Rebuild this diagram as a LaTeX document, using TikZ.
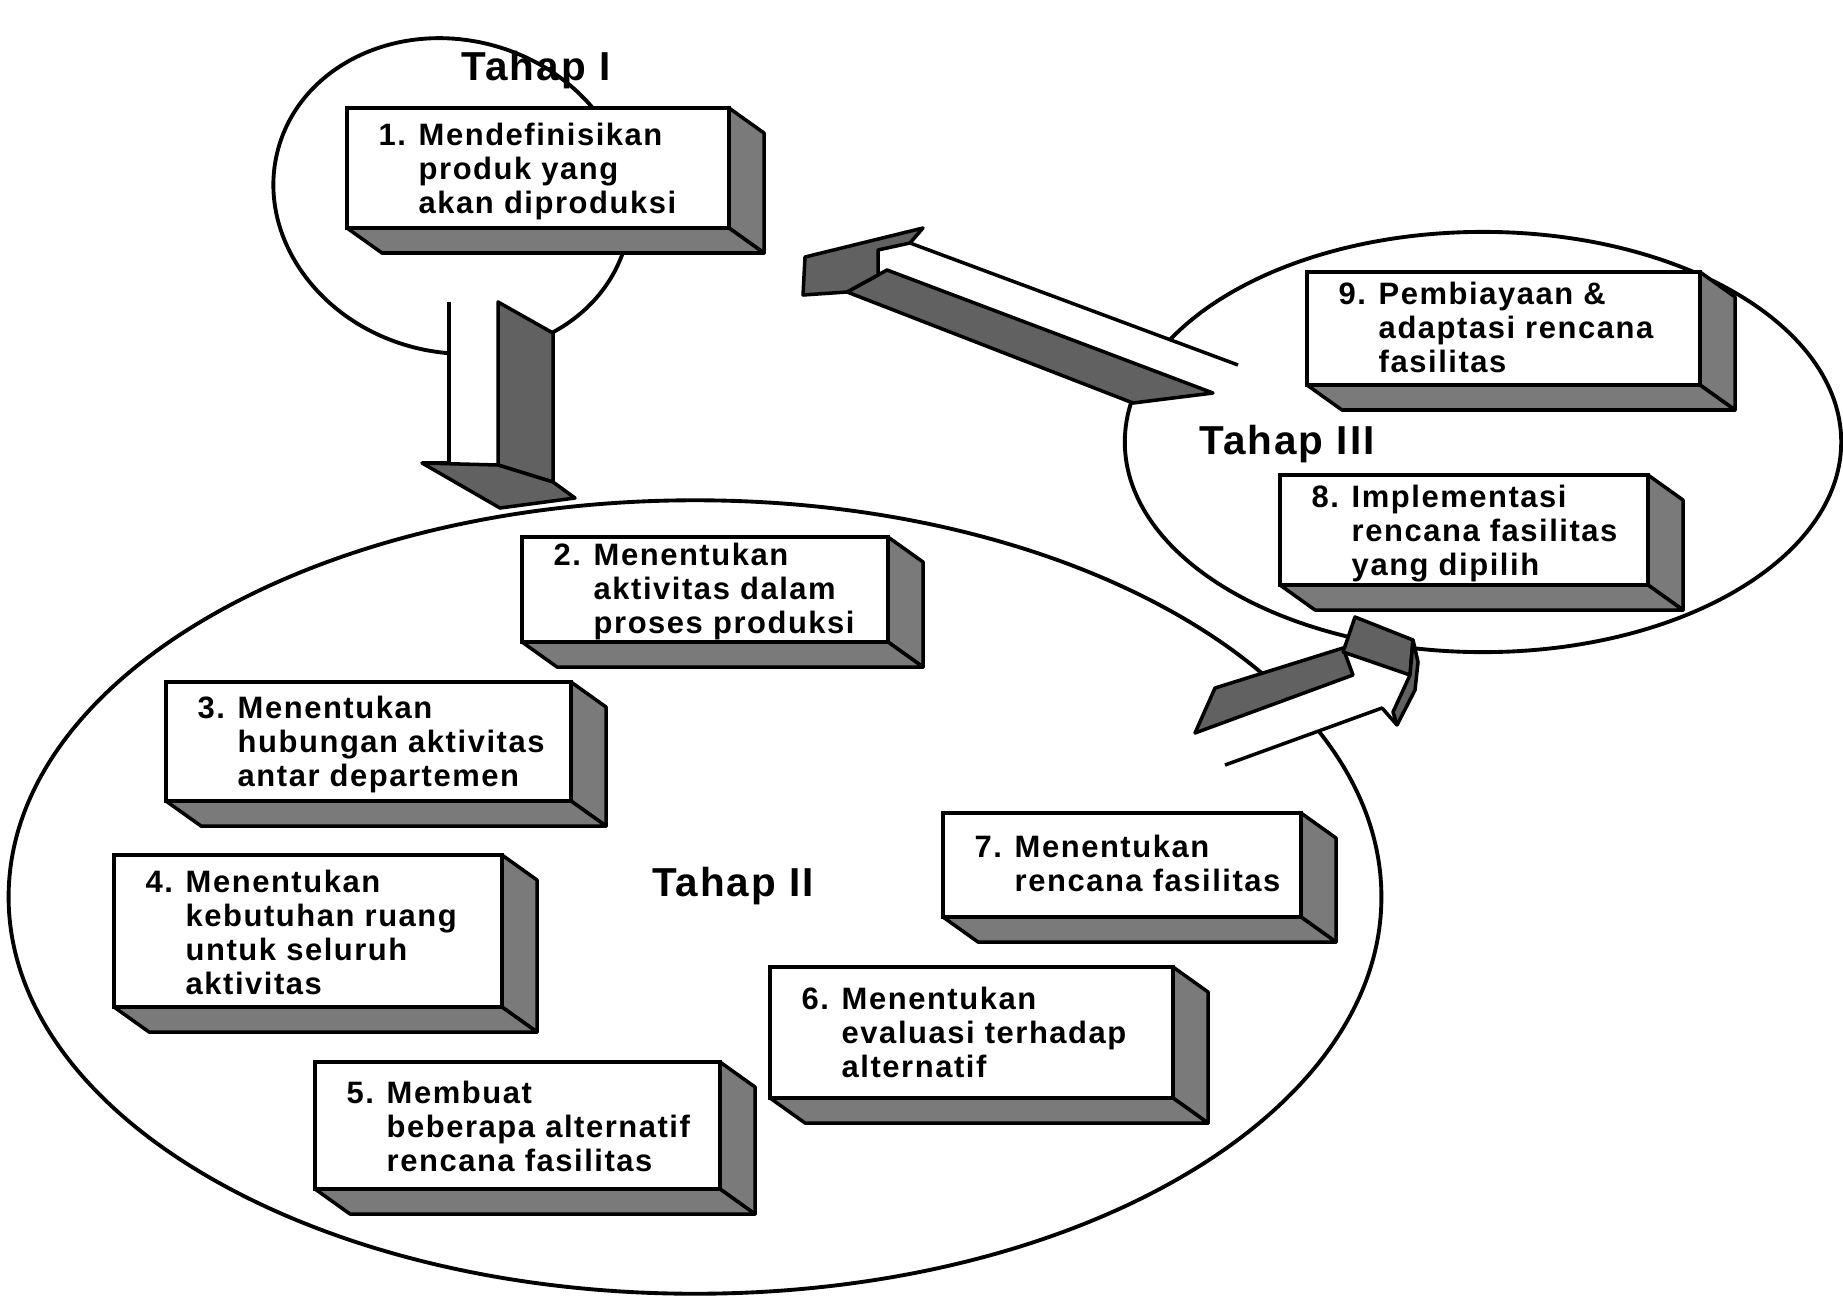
\documentclass[tikz,border=0pt]{standalone}
\usepackage{fontspec}
\newfontfamily\stepfont[LetterSpace=5]{Liberation Sans}
\usetikzlibrary{shapes.geometric,fit}

% number + indented lines
\newcommand\langkah[2]{\makebox[0.4cm][l]{#1}\begin{tabular}[t]{@{}l@{}}#2\end{tabular}}

% 3D block: name, left, top, right, bottom
\newcommand\balok[5]{%
  \draw[sideface] (#4,#3) -- (#4+35,#3+25) -- (#4+35,#5+25) -- (#4,#5) -- cycle;
  \draw[sideface] (#2,#5) -- (#2+35,#5+25) -- (#4+35,#5+25) -- (#4,#5) -- cycle;
  \node[frontbox, fit={(#2,#3) (#4,#5)}] (#1) {};
}

\begin{document}
\begin{tikzpicture}[
        x=0.01cm, y=-0.01cm,
        ring/.style={draw, ellipse, line width=1.1pt, inner sep=0pt},
        frontbox/.style={draw, line width=1pt, fill=white, inner sep=0pt},
        sideface/.style={draw, line width=1pt, fill=black!52, line join=round},
        darkface/.style={draw, line width=1pt, fill=black!62, line join=round},
        edge/.style={draw, line width=1pt, line join=round},
        stage/.style={font=\stepfont\bfseries\fontsize{11.5}{13}\selectfont, inner sep=0pt, anchor=base},
        steptext/.style={font=\stepfont\bfseries\fontsize{8.8}{9.7}\selectfont, inner sep=0pt, anchor=base west}
    ]
    \fill[white] (0,0) rectangle (1843,1306);
    \useasboundingbox (0,0) rectangle (1843,1306);

    % Stages
    \node[ring, minimum width=3.6cm, minimum height=3.12cm, rotate=-15] (tahap1) at (452,196) {};
    \node[ring, minimum width=13.72cm, minimum height=7.93cm] (tahap2) at (695,897) {};
    \node[ring, minimum width=7.16cm, minimum height=4.2cm] (tahap3) at (1483,442) {};

    % Arrow I -> II
    \fill[white] (449,302) -- (498,302) -- (498,465) -- (449,463) -- cycle;
    \draw[edge] (449,302) -- (449,463) -- (422,463);
    \draw[darkface] (498,302) -- (553,333) -- (553,482) -- (498,465) -- cycle;
    \draw[darkface] (422,463) -- (498,465) -- (553,482) -- (575,498) -- (500,508) -- cycle;

    % Arrow III -> I
    \fill[white] (910,243) -- (1238,365) -- (1213,393) -- (887,270) -- (878,262) -- (878,250) -- cycle;
    \draw[edge] (910,243) -- (1238,365);
    \draw[darkface] (887,270) -- (1213,393) -- (1133,403) -- (847,292) -- cycle;
    \draw[darkface] (803,295) -- (805,257) -- (923,228) -- (910,243) -- (878,250) -- (878,275) -- (847,292) -- cycle;

    % Arrow II -> III
    \fill[white] (1195,733) -- (1353,675) -- (1410,668) -- (1397,725) -- (1382,708) -- (1225,765) -- cycle;
    \draw[edge] (1225,765) -- (1382,708) -- (1397,725);
    \draw[darkface] (1195,733) -- (1215,688) -- (1343,648) -- (1353,675) -- cycle;
    \draw[darkface] (1343,652) -- (1355,617) -- (1413,640) -- (1410,675) -- cycle;
    \draw[darkface] (1410,675) -- (1413,640) -- (1418,662) -- (1415,690) -- (1397,725) -- (1393,712) -- cycle;

    % Labels
    \node[stage] (lbl1) at (536,80) {Tahap I};
    \node[stage] (lbl2) at (733,896) {Tahap II};
    \node[stage] (lbl3) at (1287,454) {Tahap III};

    % Blocks
    \balok{b1}{347}{108}{729}{228}
    \balok{b2}{522}{537}{888}{642}
    \balok{b3}{166}{682}{571}{801}
    \balok{b4}{114}{855}{502}{1007}
    \balok{b5}{315}{1062}{720}{1189}
    \balok{b6}{770}{967}{1173}{1098}
    \balok{b7}{943}{813}{1301}{917}
    \balok{b8}{1280}{475}{1648}{585}
    \balok{b9}{1307}{272}{1700}{385}

    % Texts
    \node[steptext] (t1) at (378,145) {\langkah{1.}{Mendefinisikan\\produk yang\\akan diproduksi}};
    \node[steptext] (t2) at (553,565) {\langkah{2.}{Menentukan\\aktivitas dalam\\proses produksi}};
    \node[steptext] (t3) at (197,718) {\langkah{3.}{Menentukan\\hubungan aktivitas\\antar departemen}};
    \node[steptext] (t4) at (145,892) {\langkah{4.}{Menentukan\\kebutuhan ruang\\untuk seluruh\\aktivitas}};
    \node[steptext] (t5) at (346,1103) {\langkah{5.}{Membuat\\beberapa alternatif\\rencana fasilitas}};
    \node[steptext] (t6) at (801,1009) {\langkah{6.}{Menentukan\\evaluasi terhadap\\alternatif}};
    \node[steptext] (t7) at (974,857) {\langkah{7.}{Menentukan\\rencana fasilitas}};
    \node[steptext] (t8) at (1311,507) {\langkah{8.}{Implementasi\\rencana fasilitas\\yang dipilih}};
    \node[steptext] (t9) at (1338,304) {\langkah{9.}{Pembiayaan \&\\adaptasi rencana\\fasilitas}};
\end{tikzpicture}
\end{document}
